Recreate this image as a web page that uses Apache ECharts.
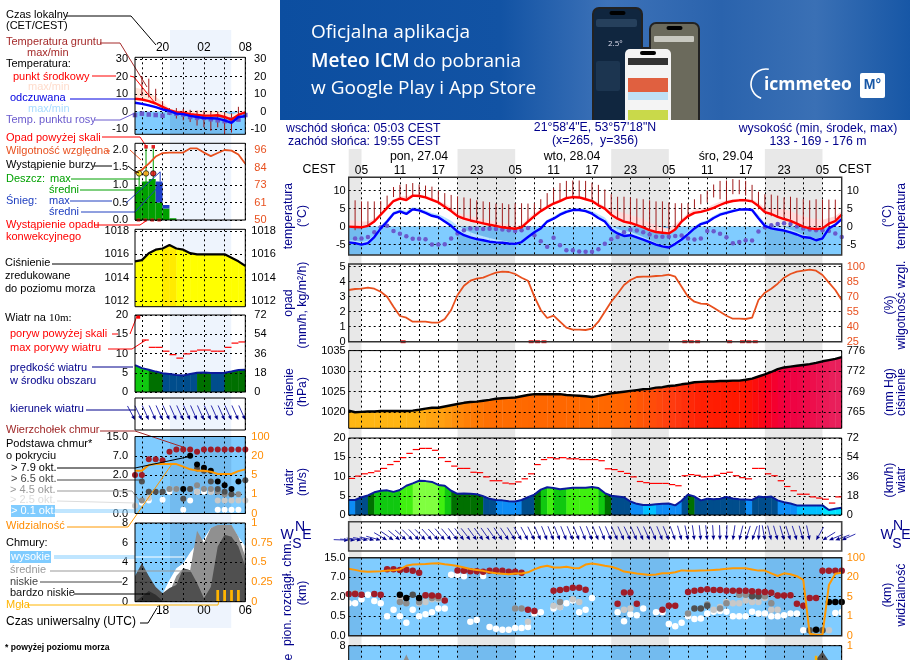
<!DOCTYPE html>
<html lang="pl">
<head>
<meta charset="UTF-8">
<title>Meteogram</title>
<style>html,body{margin:0;padding:0;background:#fff}#chart{width:910px;height:660px}</style>
</head>
<body>
<div id="chart"></div>
<script src="https://cdn.jsdelivr.net/npm/echarts@6/dist/echarts.min.js"></script>
<script>
// ---- main column, one value per hour, from 03:00 on 27.04 ----
var tempMean = [0,-0.1,-0.2,0.2,1.4,3.3,5.2,7.1,7.8,7.4,8.6,8.5,8.1,7.4,6.7,5.5,4.3,2.9,2.2,1.7,1.3,0.9,0.5,0.2,-0.2,-0.4,-0.6,-0.2,1.4,2.9,4.3,5.4,6.4,7.1,7.9,8.2,8.1,7.6,7.1,5.9,5,3.3,2.2,1.4,1,0.4,-0.2,-1,-1.5,-1.7,-1.9,-0.8,1.4,2.9,3.8,4.1,4.6,5.2,6,6.7,7.1,7.3,7.3,7,5.7,4,3.5,2.7,2.1,1.6,0.8,0,-0.5,-0.7,-0.5,0.8,1.5,3.3];
var tempMax = [1.9,1.7,1.4,1.4,2.2,3.8,5.9,7.6,8.4,8.4,9,9,8.6,8,7.2,6.5,5.3,3.8,3.3,2.9,2.5,2.1,1.7,1.4,1,0.5,0,0.6,2.3,3.8,4.9,6,6.9,7.6,8.4,8.7,8.6,8.1,7.6,6.7,5.5,4.9,4.3,3.8,3.2,2.7,2.1,1.1,0.4,-0.2,-0.5,0.8,2.2,3.8,4.8,5,5.4,6.2,6.9,7.3,7.6,7.8,7.8,7.6,6.7,5.2,4.9,4.9,4.8,4.3,3.5,2.9,2.4,2.1,1.9,2.4,2.9,4.3];
var feelsMean = [-4.4,-4.6,-5,-4.6,-2.9,-0.5,1.4,3.6,4.2,3.5,4.8,4.5,3.8,3,2.6,1.4,0.2,-1.4,-2.4,-3,-3.5,-3.8,-4.2,-4.4,-4.5,-4.7,-4.8,-4.3,-2.9,-1.6,-0.5,1.4,2.2,3.3,4.1,4.6,4.6,4.3,3.6,2.4,1.4,-0.8,-1.9,-2.6,-2.4,-3,-3.6,-4.3,-5,-5.5,-5.8,-4.8,-3.6,-2.1,-0.5,0.7,1.2,2.4,3.3,3.8,4.3,4.7,4.8,4.6,2.3,0.2,-0.5,-0.8,-1.1,-1.6,-2.2,-2.9,-3.1,-3.8,-3.3,-0.5,0.5,2.1];
var feelsMax = [-3.8,-3.9,-4.3,-3.9,-2.3,0.2,2.1,4.2,4.8,4.3,5.4,5.2,4.5,3.8,3.4,2.6,1.6,0.2,-0.7,-1.6,-2.2,-2.7,-3.2,-3.6,-3.9,-4.3,-4.5,-3.9,-2.5,-1.2,0,1.9,2.8,3.9,4.7,5.1,5.1,4.9,4.3,3.4,2.5,0.4,-0.7,-1.3,-1.4,-2.1,-2.9,-3.7,-4.5,-5.1,-5.4,-4.2,-2.9,-1.4,0.1,1.3,1.8,3,3.9,4.4,4.9,5.1,5.2,5,3.2,1.1,0.6,0.3,-0.1,-0.8,-1.5,-2.3,-2.7,-3.4,-2.8,-0.1,1.1,2.6];
var dewPoint = [null,-3.3,-3.3,-2.9,-1.6,-0.2,0.2,-1.2,-2,-2.7,-3.4,-3.4,-3.5,-5,-5,-4.9,-3.3,-1.9,-1,-0.5,-0.6,-0.7,-0.6,-0.7,-0.8,-1,-1.2,-1,-0.4,-2.4,-4.1,-5.6,-3.1,-5.2,-6.6,-6.6,-6.9,-7,-7,-6.3,-4.8,-3.5,-2.9,-1.6,-0.9,-1.1,-1.6,-2.2,-2.8,-2.8,-2.8,-2.6,-2.5,-3.3,-3.6,-3.3,-1.2,-1.3,-2,-3,-4.6,-4.3,-3.8,-3.9,-1.4,-0.2,0.4,0.7,0.9,0.7,0,-0.5,-0.8,-1,-1,-1.2,-1.9,-2.9];
var soilMax = [null,7.3,7,7,7,7.1,8.6,11,11.6,11.8,12.1,11.7,11.4,11.1,10,9.3,8.8,8.4,8.1,7.8,7.3,7,6.8,6.4,6.5,6.2,6.5,6.5,6.4,6.5,7.6,9.3,10.7,12.1,12.7,12.8,12.8,12.7,12.2,11.6,10.3,9,8.3,8.3,8.1,7.8,7.6,7.3,7,7,6.7,6.5,6.5,6.5,7.6,9,10,11.7,12.7,12.8,13.2,13,12.7,11.6,9.7,9,8.9,8.6,8.1,8.3,8,7.6,7.3,7.6,7.5,7.5,7.5,null];
var soilMin = [null,-1,-0.5,0.2,1.4,3.3,5.2,8.2,8.1,7.8,8.6,8.6,8.1,7.6,6.7,5.5,4.3,2.9,2.2,1.7,1.3,0.9,0.5,0,-0.2,-0.5,-0.6,-0.2,1.4,2.9,4.3,5.4,6.3,7.1,7.9,8.2,8.1,7.6,7.1,5.9,5,3.3,2.2,1.4,1,0.4,-0.2,-1,-1.5,-1.7,-1.9,-0.8,1.4,2.9,5.2,6.2,6.7,8.1,7.6,6.7,9,9,8.6,7.1,4.8,3.8,2.9,2.9,2.4,1.9,0,0,-1,-1,-0.5,0,1.9,null];
var humidity = [76.7,77.7,78,79,78,75,70,60,50.7,49,45,45,45,44,44,47.7,56.7,71.7,81,86,88,89,91.7,94,95,94.7,92.7,89,86,70,56.7,48.7,51,45,39,37,37,36.7,38,45,55,65,73,81.7,86.7,89.7,90,90,90.7,91,92,90,80,70,65,63,62.7,59,55,51,48,48,47.7,49,66.7,74,78,83,89,92.7,95,96,97,96,91.7,84,76.7,66.7];
var convectiveHours = [8.5,28.5,29.5,30.5,52.5,53.5,54.5,59.5,61.5,62.5,63.5];
var pressure = [1020.4,1020,1020.1,1020.2,1020.2,1020.3,1020.3,1020.3,1020.3,1020.3,1020.4,1020.6,1020.9,1021.1,1021.1,1021.4,1021.7,1022,1022.3,1022.5,1022.6,1022.8,1023,1023.3,1023.4,1023.5,1023.6,1023.9,1024.2,1024.4,1024.4,1024.4,1024.4,1024.4,1024.2,1024.1,1024,1023.9,1023.7,1024,1024.3,1024.6,1024.8,1025,1025.2,1025.4,1025.6,1025.7,1026,1026.1,1026.4,1026.5,1026.8,1027,1027.3,1027.4,1027.5,1027.5,1027.6,1027.6,1027.7,1027.7,1027.9,1028.2,1028.7,1029.2,1029.8,1030.5,1030.9,1031.1,1031.3,1031.5,1031.7,1032,1032.4,1032.7,1033,1033.4];
var windSpeed = [3.9,3.9,4.6,5.1,5.9,6.3,6.4,6,6.5,7.6,8.2,8.9,8.8,8.6,7.8,7.6,6.3,5.5,5.6,5.5,5.4,4.9,4.2,3.9,3.8,3.6,3.5,3.9,4.6,5.3,6.6,7.2,7,6.7,6.9,7.1,7.1,7.1,7.3,7,5.7,5,4.8,4.6,3.5,2.9,2.6,2.6,2.8,2.9,3,2.5,3.7,5.3,4.8,3.8,4.2,4.1,4.2,4.7,4.3,4.1,4,3.9,4.8,4.6,4.8,3.8,3.3,3,2.5,2.5,2.5,2.5,2.5,1.3,1.6,1.9];
var windGust = [9.5,10.1,10.7,11,11.4,12.1,13.1,13.9,14.9,16,17,17.3,17.3,16.8,14.9,13.9,12.7,12.1,12.1,11.1,11,9.9,8.9,8.9,8.3,8.1,8.6,9.4,10.7,13.1,14.4,14.9,14.6,14.9,14.6,14.6,14.4,14.4,14.4,14.1,12,11.8,11.3,10.8,9.9,8.7,8.4,8.2,8.2,8.2,7.9,7.6,10.2,10.5,10.3,9.9,10,10.3,10.8,11.1,10.2,9.7,9.4,12.1,12.1,10.7,10.2,8.9,7.4,6.3,5.4,5.4,4.7,4.4,4.1,3.1,4.7];
var windDir = [272,274,278,280,282,285,300,305,310,312,315,316,316,318,318,320,320,322,322,322,324,324,325,325,326,326,328,330,332,334,336,338,338,338,338,338,338,338,338,338,338,337,336,336,335,336,336,336,337,338,338,340,344,348,352,354,354,356,358,2,8,14,18,20,4,350,346,344,344,342,342,344,348,30,58,68,70,66];
var visibility = [55,50,44,42,43,44,47,48,52,67,72,73,74,76,77,73,70,66,60,54,50,46,40,36,34,32,35,35,40,52,62,67,60,60,63,58,57,72,76,72,67,63,55,43,39,35,32,29,31,36,36,40,48,46,46,47,48,50,52,55,57,57,57,52,47,47,36,25,36,32,24,18,0.1,0.05,0.05,14,34,38];
// cloud points: [hour, km]
var cloudTop = [[0,2.7],[1,2.7],[2,2.5],[4,2.7],[5,2.5],[6,10.3],[7,10.3],[8,10],[9,10.1],[10,9.6],[11,8.8],[12,2.4],[13,2.3],[14,2.2],[15,1.7],[17,9.7],[18,9.6],[19,9.4],[20,9.4],[21,9.2],[22,9.6],[23,9.7],[24,9.6],[25,9.2],[26,9.2],[27,8.8],[28,1],[29,0.9],[32,3.5],[33,3.7],[34,4],[35,4.3],[36,4.3],[37,3.8],[42,1.46],[43,3.1],[44,3.1],[45,1.46],[49,1],[50,1.3],[51,1.3],[53,3.2],[54,3.5],[55,3.7],[56,3.9],[57,3.7],[58,3.7],[59,3.5],[60,3.5],[61,3.5],[62,3.5],[63,3.4],[64,3.3],[65,3.2],[66,3],[67,2.3],[68,2.3],[69,2.4],[70,1.46],[71,1.3],[72,1.9],[73,1.9],[74,9.6],[75,9.6],[76,9.6],[77,9.6]];
var cloud01 = [[0,1.5],[1,1.5],[2,1.8],[3,2.5],[4,1.66],[5,1.5],[6,0.5],[7,1],[8,0.5],[9,0.33],[10,1],[11,0.5],[12,0.65],[13,0.8],[14,1.1],[15,1.1],[16,8],[17,8],[18,7.4],[21,7.5],[19,0.36],[20,0.4],[22,0.22],[23,0.18],[24,0.15],[25,0.15],[26,0.2],[27,0.2],[28,0.22],[29,0.7],[30,0.8],[32,1.1],[33,1.2],[34,1.5],[35,1.7],[36,0.8],[37,1],[38,1.9],[42,0.8],[43,0.37],[44,0.65],[45,0.57],[46,1.1],[48,0.8],[49,0.8],[50,0.3],[51,0.24],[52,0.33],[53,0.5],[54,0.43],[55,0.44],[56,0.7],[57,0.84],[58,0.9],[59,0.84],[60,0.5],[61,0.5],[62,0.5],[63,0.84],[64,0.7],[65,0.7],[66,0.5],[67,0.5],[68,0.57],[69,0.7],[70,0.7],[71,0.14],[76,0.75],[77,0.8]];
var cloud25 = [[1,2.9],[8,1.8],[11,1.5],[12,1.6],[13,1.8],[14,1.8],[28,0.36],[32,1.3],[33,1.2],[35,1.8],[36,1.6],[43,1],[44,1.1],[57,1],[58,1.2],[59,1.6],[60,1.5],[61,1.5],[62,1.7],[63,1.6],[64,1.6],[65,1.9],[66,1],[67,1],[75,0.14]];
var cloud45 = [[1,2.8],[8,1.6],[9,1.5],[11,1.6],[12,2.3],[13,1.9],[14,1.9],[26,1.1],[27,1.1],[33,1.6],[53,0.7],[56,1.4],[58,1.1],[59,1.5],[61,2.5],[62,2.5],[63,2.2],[64,2.1],[65,2.1],[66,1.5],[67,2.3]];
var cloud65 = [[10,2.5],[54,1.1],[55,1.1],[56,1.3],[63,2.1],[64,2.1],[72,0.14],[74,0.14]];
var cloud79 = [[8,2.5],[9,1.9],[11,1.9],[73,0.15],[75,1.6],[76,1.6],[77,1.6]];
var coverMid = [[7.5,5],[9,7.1],[10.5,5]];
var coverLow = [[71,5],[74,7.4],[76.5,5]];
var mistMain = [[73,0.87]];
var nightHours = [[0,2],[17,26],[41,50],[65,74]];

// ---- left column, legend sample, one value per hour from 16:00 ----
var sTemp = [7.3,6.9,6,4.6,2.7,0.8,-0.4,-0.6,-1.5,-1.9,-2.3,-2.3,-2.1,-3.1,-4.6,-1.9,-0.4];
var sTempMax = [13.7,12.8,11.3,8.4,5.5,1.8,0.8,0.6,0.4,0.6,0.6,0.4,0.2,-0.4,-1.8,-0.4,0.6];
var sFeels = [5,4.4,3.5,2.5,1.2,0.4,-1.2,-1.5,-2.5,-3.1,-3.7,-3.8,-4,-5,-6.5,-3.1,-2.7];
var sFeelsMax = [5.6,5,4.2,3.2,1.8,1,-0.6,-0.9,-1.9,-2.5,-3.1,-3.2,-3.4,-4.4,-5.9,-2.5,-2];
var sDew = [-2,-1.2,-1.7,-2,-2.4,-0.6,-1.2,-1.7,-3.1,-3.6,-3.6,-4.4,-5,-5.5,-4.6,-4.6,-2];
var sSoil = [[1,20.2,9],[2,18.8,8],[3,13,6],[4,6,3],[5,2,-2],[6,2,-4],[7,1.5,-5],[8,1,-6],[9,0.5,-8],[10,0.5,-9],[11,0,-11],[12,0,-9],[13,-0.5,-13],[14,-1,-12],[15,2.7,-5]];
var sHumidity = [80.7,83,87,91.7,94,94.3,94.3,94.3,97,97,94.3,92,94,96,95.6,93,87];
var sRain = [0.95,1.1,1.17,0.5,0.33,0.05,0,0,0,0,0,0,0,0,0,0];
var sSnow = [0,0,0,0.6,0.1,0,0,0,0,0,0,0,0,0,0,0];
var sRainMax = [[0.6,1.33],[1.6,2.09],[2.65,2.09]];
var sStorm = [[0.6,1.33,'#ffe000'],[1.6,1.33,'#ffa000'],[2.65,1.33,'#e00000']];
var sOverScale = [[1.6,2.09],[2.65,2.09]];
var sSnowMax = [[3.65,1.38,1.1]];
var sConvective = [0.5,1.5,2.5,3.5];
var sPressure = [1015.4,1015.5,1016.1,1016.4,1016.5,1016.8,1016.5,1016.4,1016.1,1016,1016,1016,1016,1016,1015.7,1015.4,1015];
var sWind = [7,6.2,5.8,5.3,4.9,4.7,4.4,4.3,4.7,5,5.05,4.95,4.95,5,5.3,5.7,5.8];
var sGust = [null,13.5,11.6,11.6,10.6,9.7,8.8,9.9,10.6,10.9,10.9,10.6,10.6,11.6,12.7,13];
var sDir = [332,334,336,336,336,336,336,336,336,336,336,336,336,336,336,336,336];
var sVis = [8.4,8.4,12.8,13.5,13.5,13.5,13.5,11.5,9.4,8.4,8.4,7.6,5.8,5.8,5.8,8,9.4];
var sCloudTop = [[0,2],[1,2],[2,6.1],[3,6.1],[4,5.8],[5,8.7],[6,9.6],[7,9.6],[8,9.6],[9,8.7],[10,9.6],[11,9.6],[12,9.6],[13,9.6],[14,9.6],[15,9.6],[16,9.6]];
var sCloud79 = [[7,0.9],[8,7],[9,4.7],[10,3.9],[11,3.1],[12,1.5],[13,1.2],[14,0.9],[15,1.5]];
var sCloud65 = [[1,1.5],[2,0.7],[3,0.7],[4,0.7],[7,0.38],[8,0.9],[9,3.7],[10,3.1],[11,1.5],[12,0.9],[13,0.7],[14,0.5],[16,1.6]];
var sCloud45 = [[1,0.34],[2,0.7],[4,0.7],[5,0.9],[6,0.9],[8,0.9],[9,1.2],[10,0.9],[11,0.9],[12,0.7],[13,0.5],[14,0.5],[15,0.5]];
var sCloud25 = [[0,0.2],[2,0.4],[5,0.9],[6,0.9],[9,0.7],[11,0.7],[12,0.34],[13,0.34],[14,0.34],[15,0.34],[16,0.34]];
var sCloud01 = [[1,0.28],[2,0.34],[4,0.36],[5,0.7],[7,0.1],[8,0.34],[9,0.7],[10,0.7],[11,0.7],[12,0.1],[13,0.1],[14,0.1],[15,0.1]];
var sHigh = [0,0,0,0,0.8,2.2,3.4,3.9,5,5.9,6.4,7.5,7.7,7.7,7.7,6.6,5.6];
var sMid = [0,0,0,0,0.5,0.9,2.6,3.4,3.2,7.2,6,7.5,7.8,7.8,7.8,6.6,4.6];
var sLow = [2.6,3.9,2.6,1.5,0.85,1.4,1.7,3.4,3.2,1.9,0.35,1.5,5.6,6.8,6.6,5.6,3.6];
var sVeryLow = [0,0.5,1.1,0.7,0.1,0,0,0,0,0,0,0,0,0,0,0,0];
var sMist = [[12,0.15],[13,0.15],[14,0.15],[15,0.15]];
var sNight = [[5.08,13.96]];

// tick labels
var mainHourTicks = [2,8,14,20,26,32,38,44,50,56,62,68,74];
var mainHourLabels = ['05','11','17','23','05','11','17','23','05','11','17','23','05'];
var mainGridTicks = [2,5,8,11,14,17,20,23,26,29,32,35,38,41,44,47,50,53,56,59,62,65,68,71,74,77];
var sampleGridTicks = [1,4,7,10,13,16];
var cetTicks = [4,10,16], cetLabels = ['20','02','08'];
var utcLabels = ['18','00','06'];
var cloudTicks = [0,0.5,2,7,15], cloudLabels = ['0.0','0.5','2.0','7.0','15.0'];
var visTicks = [0,1,5,20,100], visLabels = ['0','1','5','20','100'];
var mmHgLabels = ['765','769','772','776'];
var kmhLabels = ['0','18','36','54','72'];

var FONT = '"Liberation Sans", Arial, sans-serif';
var BLUE = '#80ccff', NAVY = '#00008b', NIGHT_OVER = 'rgba(0,40,100,0.10)';

var chart = echarts.init(document.getElementById('chart'));
var grids = [], xAxes = [], yAxes = [], series = [], gfx = [];

var MAIN = {left: 348.7, width: 493, xMax: 77, ticks: mainGridTicks};
var SAMPLE = {left: 135, width: 110.3, xMax: 16, ticks: sampleGridTicks};
var dashed = {show: true, lineStyle: {color: '#000', type: [2, 3], width: 1}};

function pieceScale(ticks) {
  return function (v) {
    for (var k = 0; k < ticks.length - 1; k++) {
      if (v <= ticks[k + 1]) return k + (v - ticks[k]) / (ticks[k + 1] - ticks[k]);
    }
    return ticks.length - 1;
  };
}
var cloudPos = pieceScale(cloudTicks), visPos = pieceScale(visTicks);

function yAxisFor(g, side, o) {
  var labels = o.labels;
  return {
    type: 'value', gridIndex: g, position: side, min: o.min, max: o.max, z: 5,
    axisLine: {show: false},
    axisTick: {show: false, customValues: o.ticks},
    splitLine: side === 'left' && o.ticks ? dashed : {show: false},
    axisLabel: {
      show: !!o.ticks, customValues: o.ticks, margin: o.margin, align: o.align,
      color: o.color || '#000', fontFamily: FONT, fontSize: 11,
      formatter: function (v) { return labels ? labels[o.ticks.indexOf(v)] : String(v); }
    }
  };
}

function addPanel(col, top, height, l, r, xOpt) {
  var g = grids.length;
  grids.push({left: col.left, top: top, width: col.width, height: height, show: false, containLabel: false, outerBoundsMode: 'none'});
  xOpt = xOpt || {};
  xAxes.push({
    type: 'value', gridIndex: g, min: 0, max: col.xMax, z: 5, position: xOpt.position || 'bottom',
    axisLine: {show: false},
    axisTick: {show: false, customValues: col.ticks},
    splitLine: dashed,
    axisLabel: {
      show: !!xOpt.ticks, customValues: xOpt.ticks, margin: xOpt.margin || 4,
      color: '#000', fontFamily: FONT, fontSize: 12,
      formatter: function (v) { return xOpt.labels[xOpt.ticks.indexOf(v)]; }
    }
  });
  var x = xAxes.length - 1;
  yAxes.push(yAxisFor(g, 'left', l));
  var yl = yAxes.length - 1;
  yAxes.push(yAxisFor(g, 'right', r || {min: l.min, max: l.max}));
  var yr = yAxes.length - 1;
  gfx.push({type: 'rect', z: 100, silent: true, shape: {x: col.left, y: top, width: col.width, height: height},
    style: {fill: 'none', stroke: xOpt.frame || '#000', lineWidth: xOpt.frameWidth || 1}});
  return {x: x, yl: yl, yr: yr};
}

function base(p, y, z) {
  return {xAxisIndex: p.x, yAxisIndex: y === undefined ? p.yl : y, z: z, silent: true, animation: false};
}

function rects(p, list, color, z) {   // list of [x0, x1, y0, y1]
  series.push(Object.assign(base(p, p.yl, z), {
    type: 'custom', data: list, clip: true,
    renderItem: function (params, api) {
      var a = api.coord([api.value(0), api.value(3)]), b = api.coord([api.value(1), api.value(2)]);
      return {type: 'rect', shape: {x: a[0], y: a[1], width: b[0] - a[0], height: b[1] - a[1]}, style: {fill: color}};
    }
  }));
}

function colorArea(p, values, colorFn, z) {
  var data = [];
  for (var i = 0; i < values.length - 1; i++) data.push([i, values[i], values[i + 1]]);
  series.push(Object.assign(base(p, p.yl, z), {
    type: 'custom', data: data, clip: true,
    renderItem: function (params, api) {
      var i = api.value(0), v0 = api.value(1), v1 = api.value(2);
      var a = api.coord([i, v0]), b = api.coord([i + 1, v1]);
      var bottom = params.coordSys.y + params.coordSys.height;
      return {type: 'polygon', shape: {points: [[a[0], bottom], a, [b[0] + 0.4, b[1]], [b[0] + 0.4, bottom]]},
        style: {fill: colorFn((v0 + v1) / 2)}};
    }
  }));
}

function band(p, upper, lower, color, z) {
  var data = [];
  for (var i = 0; i < upper.length - 1; i++) data.push([i, upper[i], upper[i + 1], lower[i], lower[i + 1]]);
  series.push(Object.assign(base(p, p.yl, z), {
    type: 'custom', data: data, clip: true,
    renderItem: function (params, api) {
      var i = api.value(0);
      return {type: 'polygon', shape: {points: [api.coord([i, api.value(1)]), api.coord([i + 1, api.value(2)]), api.coord([i + 1, api.value(4)]), api.coord([i, api.value(3)])]},
        style: {fill: color}};
    }
  }));
}

function line(p, values, color, width, z, y) {
  series.push(Object.assign(base(p, y, z), {
    type: 'line', showSymbol: false, smooth: false, clip: true,
    data: values.map(function (v, i) { return [i, v]; }),
    lineStyle: {color: color, width: width}
  }));
}

function area(p, pairs, color, z) {
  series.push(Object.assign(base(p, p.yl, z), {
    type: 'line', showSymbol: false, clip: true, data: pairs,
    lineStyle: {width: 0}, itemStyle: {color: color}, areaStyle: {color: color, opacity: 1}
  }));
}

function dots(p, pairs, color, size, z, symbol) {
  series.push(Object.assign(base(p, p.yl, z), {
    type: 'scatter', symbol: symbol || 'circle', symbolSize: size, clip: false, data: pairs,
    itemStyle: {color: color, opacity: 1, borderWidth: 0}
  }));
}

function vlines(p, rows, color, width, z) { // rows of [x, y0, y1]
  series.push(Object.assign(base(p, p.yl, z), {
    type: 'custom', data: rows, clip: true,
    renderItem: function (params, api) {
      var a = api.coord([api.value(0), api.value(1)]), b = api.coord([api.value(0), api.value(2)]);
      return {type: 'line', shape: {x1: a[0], y1: a[1], x2: b[0], y2: b[1]}, style: {stroke: color, lineWidth: width}};
    }
  }));
}

function steps(p, values, color, width, z) {
  var rows = [];
  values.forEach(function (v, i) { if (v !== null) rows.push([i, v]); });
  series.push(Object.assign(base(p, p.yl, z), {
    type: 'custom', data: rows, clip: true,
    renderItem: function (params, api) {
      var a = api.coord([api.value(0), api.value(1)]), b = api.coord([api.value(0) + 1, api.value(1)]);
      return {type: 'line', shape: {x1: a[0], y1: a[1], x2: b[0], y2: b[1]}, style: {stroke: color, lineWidth: width}};
    }
  }));
}

function arrows(p, dirs, level, len, z) {
  var rows = dirs.map(function (d, i) { return [i, level, d]; });
  series.push(Object.assign(base(p, p.yl, z), {
    type: 'custom', data: rows, clip: false,
    renderItem: function (params, api) {
      var tip = api.coord([api.value(0), api.value(1)]);
      var rad = api.value(2) * Math.PI / 180, ux = Math.sin(rad), uy = -Math.cos(rad);
      var tail = [tip[0] + ux * len, tip[1] + uy * len];
      var neck = [tip[0] + ux * 4.5, tip[1] + uy * 4.5];
      return {type: 'group', children: [
        {type: 'line', shape: {x1: tail[0], y1: tail[1], x2: neck[0], y2: neck[1]}, style: {stroke: '#3030b0', lineWidth: 1}},
        {type: 'polygon', shape: {points: [tip, [neck[0] - uy * 1.9, neck[1] + ux * 1.9], [neck[0] + uy * 1.9, neck[1] - ux * 1.9]]}, style: {fill: '#00008b'}}
      ]};
    }
  }));
}

function windColor(v) {
  if (v < 2) return '#00e5ff';
  if (v < 2.75) return '#00c0ff';
  if (v < 4) return '#0d8cf5';
  if (v < 5) return '#004d8c';
  if (v < 6) return '#007000';
  if (v < 7) return '#10c810';
  if (v < 8) return '#40f010';
  return '#80ff40';
}

var pressureStops = [[1016.5,[255,255,0]],[1016.8,[255,215,0]],[1020.4,[255,180,20]],[1021.5,[255,154,16]],[1023,[255,110,0]],[1025,[255,100,0]],[1026.5,[255,58,16]],[1027.7,[255,24,0]],[1029.5,[248,0,32]],[1031,[240,0,64]],[1033,[232,32,92]]];
function pressureColor(v) {
  var s = pressureStops;
  if (v <= s[0][0]) return 'rgb(' + s[0][1] + ')';
  for (var k = 0; k < s.length - 1; k++) {
    if (v <= s[k + 1][0]) {
      var t = (v - s[k][0]) / (s[k + 1][0] - s[k][0]);
      return 'rgb(' + s[k][1].map(function (c, n) { return Math.round(c + (s[k + 1][1][n] - c) * t); }) + ')';
    }
  }
  return 'rgb(' + s[s.length - 1][1] + ')';
}

function kmPairs(pairs) { return pairs.map(function (d) { return [d[0], cloudPos(d[1])]; }); }

function cloudDots(p, sets, size) {
  var cols = ['#ffffff', '#c8c8c8', '#8c8c8c', '#505050', '#000000', '#a01c28'];
  sets.forEach(function (s, n) { dots(p, kmPairs(s), cols[n], size, 6 + n); });
}

// ---- background night bands behind both columns ----
var bgMain = addPanel(MAIN, 149, 560, {min: 0, max: 1}, null, {frame: 'rgba(0,0,0,0)'});
xAxes[bgMain.x].splitLine = {show: false};
rects(bgMain, nightHours.map(function (n) { return [n[0], n[1], 0, 1]; }), '#e8e8e8', 0);
var bgSample = addPanel(SAMPLE, 30, 598, {min: 0, max: 1}, null, {frame: 'rgba(0,0,0,0)'});
xAxes[bgSample.x].splitLine = {show: false};
rects(bgSample, sNight.map(function (n) { return [n[0], n[1], 0, 1]; }), '#eef4fd', 0);

// ---- main: temperature ----
var p = addPanel(MAIN, 177.3, 77.7,
  {min: -7.9, max: 13.7, ticks: [-5, 0, 5, 10], margin: 3},
  {min: -7.9, max: 13.7, ticks: [-5, 0, 5, 10], margin: 5, align: 'left'},
  {position: 'top', ticks: mainHourTicks, labels: mainHourLabels, margin: 1, frame: '#333', frameWidth: 1.4});
rects(p, [[0, 77, -7.9, 0]], BLUE, 1);
rects(p, nightHours.map(function (n) { return [n[0], n[1], -7.9, 0]; }), NIGHT_OVER, 2);
band(p, tempMax, tempMean, '#ffdcdc', 3);
band(p, feelsMax, feelsMean, '#b8e2ff', 3);
vlines(p, soilMax.map(function (v, i) { return [i, soilMin[i], v]; }).filter(function (r) { return r[2] !== null; }), '#a01c1c', 1, 6);
dots(p, dewPoint.map(function (v, i) { return [i, v]; }).filter(function (d) { return d[1] !== null; }), '#6a5acd', 4.5, 7);
line(p, tempMean, '#ff0000', 2.4, 8);
line(p, feelsMean, '#0000ff', 2.4, 8);

// ---- main: humidity / precipitation ----
p = addPanel(MAIN, 264, 77.7,
  {min: 0, max: 5.18, ticks: [0, 1, 2, 3, 4, 5], margin: 3},
  {min: 25, max: 102.7, ticks: [25, 40, 55, 70, 85, 100], margin: 5, align: 'left', color: '#e8501e'},
  {frame: '#333', frameWidth: 1.4});
line(p, humidity, '#e8501e', 1.8, 8, p.yr);
dots(p, convectiveHours.map(function (h) { return [h, 0]; }), '#e02020', [5, 3], 9, 'rect');

// ---- main: pressure ----
p = addPanel(MAIN, 350.6, 77.7,
  {min: 1016.1, max: 1035, ticks: [1020, 1025, 1030, 1035], margin: 3},
  {min: 1016.1, max: 1035, ticks: [1020, 1025, 1030, 1035], labels: mmHgLabels, margin: 5, align: 'left'});
colorArea(p, pressure, pressureColor, 2);
line(p, pressure, '#000', 2.4, 8);

// ---- main: wind ----
p = addPanel(MAIN, 438, 77,
  {min: 0, max: 20, ticks: [0, 5, 10, 15, 20], margin: 3},
  {min: 0, max: 20, ticks: [0, 5, 10, 15, 20], labels: kmhLabels, margin: 5, align: 'left'});
colorArea(p, windSpeed, windColor, 2);
steps(p, windGust, '#ff0000', 1.2, 8);
line(p, windSpeed, '#0a1a9c', 2, 8);

// ---- main: wind direction ----
p = addPanel(MAIN, 521.7, 29.3, {min: 0, max: 1}, null, {frame: '#444', frameWidth: 1.6});
xAxes[p.x].splitLine = dashed;
arrows(p, windDir, 0.37, 15, 8);

// ---- main: clouds base / visibility ----
p = addPanel(MAIN, 557.7, 78,
  {min: 0, max: 4, ticks: [0, 1, 2, 3, 4], labels: cloudLabels, margin: 3},
  {min: 0, max: 4, ticks: [0, 1, 2, 3, 4], labels: visLabels, margin: 5, align: 'left', color: '#ff8c00'},
  {frame: '#222', frameWidth: 1.4});
rects(p, [[0, 77, 0, 4]], BLUE, 1);
rects(p, nightHours.map(function (n) { return [n[0], n[1], 0, 4]; }), NIGHT_OVER, 2);
cloudDots(p, [cloud01, cloud25, cloud45, cloud65, cloud79, cloudTop], 6.5);
line(p, visibility.map(visPos), '#ff9800', 2, 12);

// ---- main: cloud cover, mostly below the fold ----
p = addPanel(MAIN, 645.7, 78,
  {min: 0, max: 8, ticks: [8], margin: 3},
  {min: 0, max: 1, ticks: [1], margin: 5, align: 'left', color: '#ff8c00'});
rects(p, [[0, 77, 0, 8]], BLUE, 1);
rects(p, nightHours.map(function (n) { return [n[0], n[1], 0, 8]; }), NIGHT_OVER, 2);
area(p, coverMid, '#909090', 3);
area(p, coverLow, '#505050', 4);
series.push(Object.assign(base(p, p.yr, 6), {
  type: 'custom', data: mistMain, clip: true,
  renderItem: function (params, api) {
    var a = api.coord([api.value(0) - 0.2, api.value(1)]), b = api.coord([api.value(0) + 0.2, 0]);
    return {type: 'rect', shape: {x: a[0], y: a[1], width: b[0] - a[0], height: b[1] - a[1]}, style: {fill: '#ffb400'}};
  }
}));

// ---- sample: temperature ----
p = addPanel(SAMPLE, 57.3, 77,
  {min: -13, max: 31, ticks: [-10, 0, 10, 20, 30], margin: 7},
  {min: -13, max: 31, ticks: [-10, 0, 10, 20, 30], margin: 21, align: 'right'},
  {position: 'top', ticks: cetTicks, labels: cetLabels, margin: 4});
rects(p, [[0, 16, -13, 0]], BLUE, 1);
rects(p, sNight.map(function (n) { return [n[0], n[1], -13, 0]; }), NIGHT_OVER, 2);
band(p, sTempMax, sTemp, '#ffe4d8', 3);
band(p, sFeelsMax, sFeels, '#b8e2ff', 3);
vlines(p, sSoil.map(function (r) { return [r[0], r[2], r[1]]; }), '#a01c1c', 1, 6);
dots(p, sDew.map(function (v, i) { return [i, v]; }), '#6a5acd', 4.5, 7, 'rect');
line(p, sTemp, '#ff0000', 2.4, 8);
line(p, sFeels, '#0000ff', 2.4, 8);

// ---- sample: precipitation / humidity ----
p = addPanel(SAMPLE, 143.3, 76.7,
  {min: 0, max: 2.19, ticks: [0, 0.5, 1, 1.5, 2], labels: ['0.0', '0.5', '1.0', '1.5', '2.0'], margin: 7},
  {min: 50, max: 100.4, ticks: [50, 61, 73, 84, 96], margin: 9, align: 'left', color: '#e8501e'});
rects(p, sRain.map(function (v, i) { return [i, i + 1, 0, v]; }), '#00a000', 3);
rects(p, sSnow.map(function (v, i) { return [i, i + 1, sRain[i], sRain[i] + v]; }), '#1f3fc8', 3);
vlines(p, sRainMax.map(function (d) { return [d[0], 0.8, d[1]]; }), '#00a000', 1, 6);
vlines(p, sSnowMax, '#1f3fc8', 1, 6);
line(p, sHumidity, '#e8501e', 1.8, 8, p.yr);
dots(p, sOverScale, '#e02020', [3.5, 3.5], 9, 'rect');
sStorm.forEach(function (s) {
  series.push(Object.assign(base(p, p.yl, 10), {
    type: 'scatter', symbolSize: 5.5, clip: false, data: [[s[0], s[1]]],
    itemStyle: {color: s[2], borderColor: '#000', borderWidth: 0.8}
  }));
});
dots(p, sConvective.map(function (h) { return [h, 0]; }), '#e02020', [3.5, 3], 9, 'rect');

// ---- sample: pressure ----
p = addPanel(SAMPLE, 229.3, 77.4,
  {min: 1011.5, max: 1018.15, ticks: [1012, 1014, 1016, 1018], margin: 6},
  {min: 1011.5, max: 1018.15, ticks: [1012, 1014, 1016, 1018], margin: 6, align: 'left'});
colorArea(p, sPressure, pressureColor, 2);
line(p, sPressure, '#000', 2.2, 8);

// ---- sample: wind ----
p = addPanel(SAMPLE, 315, 77,
  {min: 0, max: 20, ticks: [0, 5, 10, 15, 20], margin: 7},
  {min: 0, max: 20, ticks: [0, 5, 10, 15, 20], labels: kmhLabels, margin: 9, align: 'left'});
colorArea(p, sWind, windColor, 2);
steps(p, sGust, '#ff0000', 1.2, 8);
line(p, sWind, '#0a1a9c', 2, 8);
dots(p, [[0.5, 19.5]], '#ff0000', 3.5, 9, 'rect');

// ---- sample: wind direction ----
p = addPanel(SAMPLE, 398, 32, {min: 0, max: 1});
arrows(p, sDir, 0.31, 16, 8);

// ---- sample: clouds ----
p = addPanel(SAMPLE, 436.5, 77,
  {min: 0, max: 4, ticks: [0, 1, 2, 3, 4], labels: cloudLabels, margin: 7},
  {min: 0, max: 4, ticks: [0, 1, 2, 3, 4], labels: visLabels, margin: 6, align: 'left', color: '#ff8c00'});
rects(p, [[0, 16, 0, 4]], BLUE, 1);
rects(p, sNight.map(function (n) { return [n[0], n[1], 0, 4]; }), NIGHT_OVER, 2);
cloudDots(p, [sCloud01, sCloud25, sCloud45, sCloud65, sCloud79, sCloudTop], 6);
line(p, sVis.map(visPos), '#ff9800', 2, 12);

// ---- sample: cloud cover ----
p = addPanel(SAMPLE, 523, 78.7,
  {min: 0, max: 8, ticks: [0, 2, 4, 6, 8], margin: 7},
  {min: 0, max: 1, ticks: [0, 0.25, 0.5, 0.75, 1], margin: 6, align: 'left', color: '#ff8c00'},
  {ticks: cetTicks, labels: utcLabels, margin: 3});
rects(p, [[0, 16, 0, 8]], BLUE, 1);
rects(p, sNight.map(function (n) { return [n[0], n[1], 0, 8]; }), NIGHT_OVER, 2);
area(p, sHigh.map(function (v, i) { return [i, v]; }), '#ffffff', 3);
area(p, sMid.map(function (v, i) { return [i, v]; }), '#909090', 4);
area(p, sLow.map(function (v, i) { return [i, v]; }), '#505050', 4.5);
area(p, sVeryLow.map(function (v, i) { return [i, v]; }), '#303030', 4.8);
series.push(Object.assign(base(p, p.yr, 6), {
  type: 'custom', data: sMist, clip: true,
  renderItem: function (params, api) {
    var a = api.coord([api.value(0) - 0.2, api.value(1)]), b = api.coord([api.value(0) + 0.2, 0]);
    return {type: 'rect', shape: {x: a[0], y: a[1], width: b[0] - a[0], height: b[1] - a[1]}, style: {fill: '#ffb400'}};
  }
}));

// ---- text and leader lines ----
function txt(x, y, s, color, o) {
  o = o || {};
  gfx.push({type: 'text', x: x, y: y, z: o.z || 101, silent: true, rotation: o.rot || 0,
    style: {text: s, fill: color || '#000', font: (o.weight || '') + ' ' + (o.size || 12.3) + 'px ' + (o.family || FONT),
      textAlign: o.align || 'left', textVerticalAlign: 'middle', verticalAlign: 'middle', align: o.align || 'left'}});
}
function ln(points, color, w) {
  gfx.push({type: 'polyline', z: 99, silent: true, shape: {points: points}, style: {fill: 'none', stroke: color, lineWidth: w || 1}});
}
function box(x, y, w, h, fill, r, z) {
  gfx.push({type: 'rect', z: z || 90, silent: true, shape: {x: x, y: y, width: w, height: h, r: r || 0}, style: {fill: fill}});
}

// legend column
var RED = '#ff0000', DRED = '#a52a2a', GRN = '#00a000', SNOW = '#2040c0', ORG = '#ff8c00', GRY = '#999', BLU2 = '#0000e0', VIOL = '#6a5acd', DK = '#444';
[
  [6,15,'Czas lokalny','#000'],[6,26,'(CET/CEST)','#000'],
  [6,42,'Temperatura gruntu',DRED],[27,53,'max/min',DRED],
  [6,64,'Temperatura:','#000'],[13,77,'punkt środkowy',RED],[28,87,'max/min','#ffdccc'],
  [10,98,'odczuwana',BLU2],[28,109,'max/min','#a8dcff'],[6,120,'Temp. punktu rosy',VIOL],
  [6,138,'Opad powyżej skali',RED],[6,151,'Wilgotność względna','#e8501e'],[6,165,'Wystąpienie burzy','#000'],
  [6,179,'Deszcz:',GRN],[50,179,'max',GRN],[49,190,'średni',GRN],
  [6,201,'Śnieg:',SNOW],[49,201,'max',SNOW],[49,212,'średni',SNOW],
  [6,225,'Wystąpienie opadu',RED],[6,237,'konwekcyjnego',RED],
  [5,263,'Ciśnienie','#000'],[5,276,'zredukowane','#000'],[5,289,'do poziomu morza','#000'],
  [5,318,'Wiatr na','#000'],[10,334,'poryw powyżej skali',RED],[10,348,'max porywy wiatru',RED],
  [10,368,'prędkość wiatru',NAVY],[10,381,'w środku obszaru',NAVY],[10,409,'kierunek wiatru',NAVY],
  [6,430,'Wierzchołek chmur','#a02828'],[6,444,'Podstawa chmur*','#000'],[6,456,'o pokryciu','#000'],
  [11,468,'> 7.9 okt.','#000'],[11,479,'> 6.5 okt.',DK],[10,490,'> 4.5 okt.',GRY],[10,500,'> 2.5 okt.','#ddd'],
  [6,526,'Widzialność',ORG],[6,543,'Chmury:','#000'],[10,570,'średnie',GRY],[10,582,'niskie',DK],
  [10,593,'bardzo niskie','#111'],[6,605,'Mgła','#ffb400']
].forEach(function (t) { txt(t[0], t[1], t[2], t[3], {size: 11}); });
txt(49, 318, '10m:', '#000', {size: 11, family: '"Liberation Serif", serif'});
txt(6, 622, 'Czas uniwersalny (UTC)', '#000', {size: 12});
box(11, 505, 44, 12, BLUE); txt(11, 511, '> 0.1 okt.', '#fff', {size: 11});
box(10, 551, 41, 12, BLUE); txt(11, 557, 'wysokie', '#fff', {size: 11});
txt(5, 648, '* powyżej poziomu morza', '#000', {size: 8.6, weight: 'bold'});

ln([[66,16],[131,16],[156,45]], '#000');
ln([[100,43],[120,43],[147,87]], DRED);
ln([[92,76],[116,76]], RED); ln([[130,76],[134,77],[155,103]], RED);
ln([[70,99],[135,99]], BLU2);
ln([[94,120],[120,120],[135,113]], VIOL);
ln([[102,137],[140,137],[146,146]], RED);
ln([[106,151],[110,151]], '#e8501e'); ln([[130,150],[141,160]], '#e8501e');
ln([[94,166],[112,166]], '#000'); ln([[128,166],[133,170],[139,173]], '#000');
ln([[71,179],[140,179]], GRN); ln([[80,190],[144,190]], GRN);
ln([[70,201],[112,201]], SNOW); ln([[126,203],[160,172]], SNOW);
ln([[81,212],[135,212],[160,185]], SNOW);
ln([[95,225],[140,225],[146,221]], RED);
ln([[52,264],[133,264]], '#000');
ln([[112,334],[118,334]], RED); ln([[130,334],[137,316]], RED);
ln([[108,349],[132,349],[146,340]], RED);
ln([[92,367],[133,367]], NAVY);
ln([[86,410],[136,410]], NAVY);
ln([[100,431],[135,431],[183,447]], '#a02828');
ln([[57,468],[135,468],[192,456]], '#000');
ln([[57,480],[143,480]], DK);
ln([[57,491],[132,491],[139,500]], GRY);
ln([[57,501],[136,503]], '#ddd');
ln([[55,510],[135,510]], BLUE); ln([[55,512],[135,512]], BLUE);
ln([[67,527],[128,527],[172,464]], '#ff9800');
ln([[54,556],[135,556]], BLUE); ln([[54,558],[135,558]], BLUE); ln([[135,557],[185,557]], '#fff');
ln([[50,571],[192,571]], GRY);
ln([[40,582],[122,582]], DK); ln([[135,582],[150,582]], DK);
ln([[74,594],[150,594]], '#000');
ln([[27,605],[218,605],[219,600]], '#ffb400');
ln([[140,623],[148,623],[157,608]], '#000');

// header above the main column
txt(286, 129, 'wschód słońca: 05:03 CEST', NAVY);
txt(288, 142, 'zachód słońca: 19:55 CEST', NAVY);
txt(595, 128, '21°58\'4"E, 53°57\'18"N', NAVY, {align: 'center'});
txt(595, 141, '(x=265,  y=356)', NAVY, {align: 'center'});
txt(818, 129, 'wysokość (min, środek, max)', NAVY, {align: 'center'});
txt(818, 142, '133 - 169 - 176 m', NAVY, {align: 'center'});
txt(419, 157, 'pon, 27.04', '#000', {align: 'center'});
txt(572, 157, 'wto, 28.04', '#000', {align: 'center'});
txt(726, 157, 'śro, 29.04', '#000', {align: 'center'});
txt(319, 170, 'CEST', '#000', {align: 'center'});
txt(855, 170, 'CEST', '#000', {align: 'center'});

// rotated axis titles
var UP = Math.PI / 2;
[
  [289,216,'temperatura'],[303,216,'(°C)'],[289,303,'opad'],[303,305,'(mm/h, kg/m²/h)'],
  [290,392,'ciśnienie'],[303,392,'(hPa)'],[290,482,'wiatr'],[303,482,'(m/s)'],
  [288,593,'pion. rozciągł. chm.'],[303,593,'(km)'],[289,657,'e'],
  [902,216,'temperatura'],[888,216,'(°C)'],[902,305,'wilgotność wzgl.'],[890,305,'(%)'],
  [902,392,'ciśnienie'],[890,392,'(mm Hg)'],[902,480,'wiatr'],[890,480,'(km/h)'],
  [902,595,'widzialność'],[888,595,'(km)']
].forEach(function (t) { txt(t[0], t[1], t[2], NAVY, {rot: UP, align: 'center'}); });

// wind rose labels
[[287,535,'W'],[300,527,'N'],[307,535,'E'],[297,544,'S'],[887,535,'W'],[898,526,'N'],[906,535,'E'],[897,544,'S']].forEach(function (t) {
  txt(t[0], t[1], t[2], NAVY, {size: 14, align: 'center'});
});

// banner
gfx.push({type: 'rect', z: 60, silent: true, shape: {x: 280, y: 0, width: 630, height: 120},
  style: {fill: new echarts.graphic.LinearGradient(0, 0, 1, 0, [
    {offset: 0, color: '#0c4ea0'}, {offset: 0.35, color: '#1253a4'}, {offset: 0.52, color: '#3d72b8'},
    {offset: 0.7, color: '#2a63ad'}, {offset: 0.85, color: '#3a70b5'}, {offset: 1, color: '#1757a6'}])}});
var OS = '"Open Sans", sans-serif';
txt(311, 33, 'Oficjalna aplikacja', '#fff', {size: 19, family: OS});
txt(311, 62, 'Meteo ICM', '#fff', {size: 19, family: OS, weight: '600'});
txt(413, 62, 'do pobrania', '#fff', {size: 19, family: OS});
txt(311, 89, 'w Google Play i App Store', '#fff', {size: 19, family: OS});
function phone(x, y, w, screen) {
  gfx.push({type: 'rect', z: 70, silent: true, shape: {x: x, y: y, width: w, height: 120 - y, r: [7, 7, 0, 0]}, style: {fill: '#222'}});
  gfx.push({type: 'rect', z: 71, silent: true, shape: {x: x + 2, y: y + 2, width: w - 4, height: 118 - y, r: [5, 5, 0, 0]}, style: {fill: screen}});
  gfx.push({type: 'rect', z: 72, silent: true, shape: {x: x + w / 2 - 8, y: y + 4, width: 16, height: 4, r: 2}, style: {fill: '#000'}});
}
phone(592, 7, 51, '#10263f');
phone(649, 22, 51, '#6b6a5c');
phone(623, 47, 50, '#f4f4f4');
box(596, 19, 41, 8, '#26405c', 2, 73);
box(596, 61, 24, 30, '#1c3550', 2, 72);
box(654, 36, 40, 6, '#c8c8c0', 1, 73);
box(628, 58, 40, 7, '#333', 0, 73);
box(628, 78, 40, 14, '#e06040', 0, 73);
box(628, 92, 40, 8, '#bfe0f5', 0, 73);
box(628, 110, 40, 10, '#c9d94a', 0, 73);
txt(608, 44, '2.5°', '#dde', {size: 8, family: OS, z: 73});
txt(764, 85, 'icmmeteo', '#fff', {size: 17.5, family: OS, weight: 'bold', z: 73});
box(860, 73, 25, 25, '#fff', 2, 73);
txt(872.5, 85, 'M°', '#1757a6', {size: 14, weight: 'bold', align: 'center', z: 74});
gfx.push({type: 'arc', z: 73, silent: true, shape: {cx: 766, cy: 84, r: 15, startAngle: 1.9, endAngle: 4.9}, style: {fill: 'none', stroke: '#fff', lineWidth: 1.6}});

chart.setOption({
  animation: false,
  grid: grids, xAxis: xAxes, yAxis: yAxes, series: series,
  graphic: {elements: gfx}
});
</script>
</body>
</html>
